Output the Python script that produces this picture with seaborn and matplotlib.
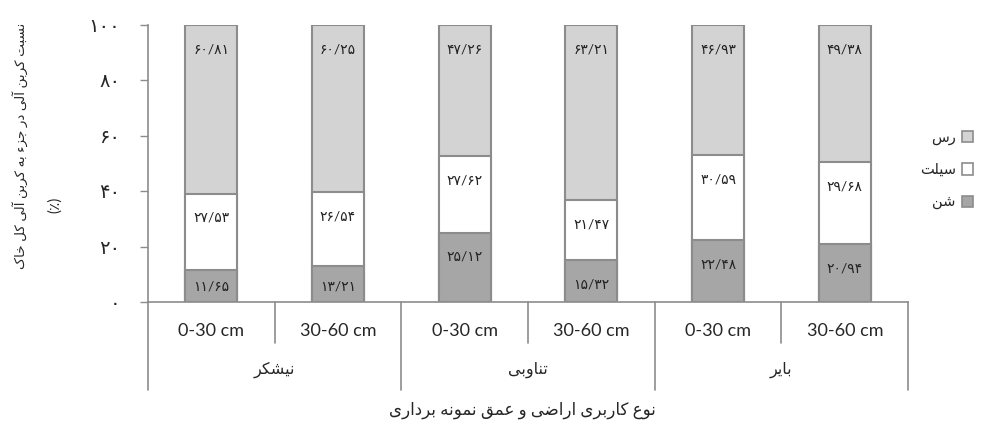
import pandas as pd
import numpy as np
import matplotlib
matplotlib.use("Agg")
import matplotlib.pyplot as plt
import seaborn as sns
from matplotlib.patches import Patch

# data (percent of total organic carbon)
land_use = ["نیشکر", "تناوبی", "بایر"]
depths = ["0-30 cm", "30-60 cm"]
sand = [11.65, 13.21, 25.12, 15.32, 22.48, 20.94]
silt = [27.53, 26.54, 27.62, 21.47, 30.59, 29.68]
clay = [60.81, 60.25, 47.26, 63.21, 46.93, 49.38]
series_names = ["شن", "سیلت", "رس"]
y_ticks = [0, 20, 40, 60, 80, 100]
x_title = "نوع کاربری اراضی و عمق نمونه برداری"
y_title = "نسبت کربن آلی در جزء به کربن آلی کل خاک"
y_unit = "(٪)"

# matplotlib has no arabic shaping, so pick presentation forms by hand
FORMS = {
    "\u0621": ("\ufe80",),
    "\u0622": ("\ufe81", "\ufe82"),
    "\u0627": ("\ufe8d", "\ufe8e"),
    "\u0628": ("\ufe8f", "\ufe90", "\ufe91", "\ufe92"),
    "\u062a": ("\ufe95", "\ufe96", "\ufe97", "\ufe98"),
    "\u062c": ("\ufe9d", "\ufe9e", "\ufe9f", "\ufea0"),
    "\u062e": ("\ufea5", "\ufea6", "\ufea7", "\ufea8"),
    "\u062f": ("\ufea9", "\ufeaa"),
    "\u0631": ("\ufead", "\ufeae"),
    "\u0632": ("\ufeaf", "\ufeb0"),
    "\u0633": ("\ufeb1", "\ufeb2", "\ufeb3", "\ufeb4"),
    "\u0634": ("\ufeb5", "\ufeb6", "\ufeb7", "\ufeb8"),
    "\u0636": ("\ufebd", "\ufebe", "\ufebf", "\ufec0"),
    "\u0639": ("\ufec9", "\ufeca", "\ufecb", "\ufecc"),
    "\u0642": ("\ufed5", "\ufed6", "\ufed7", "\ufed8"),
    "\u0644": ("\ufedd", "\ufede", "\ufedf", "\ufee0"),
    "\u0645": ("\ufee1", "\ufee2", "\ufee3", "\ufee4"),
    "\u0646": ("\ufee5", "\ufee6", "\ufee7", "\ufee8"),
    "\u0647": ("\ufee9", "\ufeea", "\ufeeb", "\ufeec"),
    "\u0648": ("\ufeed", "\ufeee"),
    "\u06a9": ("\ufb8e", "\ufb8f", "\ufb90", "\ufb91"),
    "\u06cc": ("\ufbfc", "\ufbfd", "\ufbfe", "\ufbff"),
}


def fa(text):
    text = text.replace("\u064a", "\u06cc").replace("\u0643", "\u06a9")
    out = []
    for i, ch in enumerate(text):
        f = FORMS.get(ch)
        if f is None:
            out.append(ch)
            continue
        prev = text[i - 1] if i > 0 else ""
        nxt = text[i + 1] if i + 1 < len(text) else ""
        join_prev = len(FORMS.get(prev, ())) == 4 and len(f) > 1
        join_next = len(f) == 4 and len(FORMS.get(nxt, ())) > 1
        if join_prev and join_next:
            out.append(f[3])
        elif join_prev:
            out.append(f[1])
        elif join_next:
            out.append(f[2])
        else:
            out.append(f[0])
    return "".join(reversed(out))


digits = str.maketrans("0123456789.", "۰۱۲۳۴۵۶۷۸۹/")


def fa_num(v, fmt="{:.2f}"):
    return fmt.format(v).translate(digits)


sns.set_style("white")
plt.rcParams["font.family"] = ["Lato", "DejaVu Sans"]

cats = [g + " " + d for g in land_use for d in depths]
df = pd.DataFrame({"cat": cats, "sand": sand, "silt": silt, "clay": clay})
df["low"] = df["sand"]
df["mid"] = df["sand"] + df["silt"]
df["top"] = df["mid"] + df["clay"]

c_clay, c_silt, c_sand = "#d3d3d3", "#ffffff", "#a6a6a6"
edge = "#8c8c8c"

fig = plt.figure(figsize=(9.86, 4.25), dpi=100)
ax = fig.add_axes([0.150, 0.289, 0.771, 0.652])

for col, c in [("top", c_clay), ("mid", c_silt), ("low", c_sand)]:
    sns.barplot(data=df, x="cat", y=col, order=cats, color=c, saturation=1,
                width=0.41, edgecolor=edge, linewidth=1.5, ax=ax)

ax.set_ylim(0, 100)
ax.set_xlim(-0.5, 5.5)
ax.set_xlabel("")
ax.set_ylabel("")
ax.set_yticks(y_ticks)
ax.set_yticklabels([fa_num(t, "{:d}") for t in y_ticks], fontsize=14)
ax.tick_params(axis="y", left=True, length=6, width=1, color=edge, pad=14)
ax.set_xticks([])
for s in ["top", "right"]:
    ax.spines[s].set_visible(False)
for s in ["left", "bottom"]:
    ax.spines[s].set_color(edge)
    ax.spines[s].set_linewidth(1.2)

# value labels near the top of each segment
for i in range(len(cats)):
    segs = [(0, sand[i]), (sand[i], sand[i] + silt[i]),
            (sand[i] + silt[i], sand[i] + silt[i] + clay[i])]
    vals = [sand[i], silt[i], clay[i]]
    for (b, t), v in zip(segs, vals):
        y = max(t - 8.8, b + 5.5)
        ax.text(i, y, fa_num(v), ha="center", va="center", fontsize=10,
                color="#222222")

# two-level category axis
tr = ax.get_xaxis_transform()
for k in range(7):
    x = k - 0.5
    y_end = -0.318 if k % 2 == 0 else -0.148
    ax.plot([x, x], [0, y_end], color=edge, lw=1.2, transform=tr, clip_on=False)
for i, c in enumerate(cats):
    ax.text(i, -0.105, depths[i % 2], ha="center", va="center",
            fontsize=13, transform=tr)
for g, name in enumerate(land_use):
    ax.text(2 * g + 0.5, -0.245, fa(name), ha="center", va="center",
            fontsize=11.5, transform=tr)

fig.text(0.53, 1 - 410 / 425, fa(x_title), ha="center", va="center", fontsize=12)
fig.text(20 / 986, 1 - 146 / 425, fa(y_title), rotation=90, ha="center",
         va="center", fontsize=9.7)
fig.text(55 / 986, 1 - 205 / 425, y_unit, rotation=90, ha="center",
         va="center", fontsize=11)

handles = [Patch(facecolor=c, edgecolor=edge, linewidth=1.2)
           for c in [c_clay, c_silt, c_sand]]
labels = [fa(n) for n in reversed(series_names)]
fig.legend(handles, labels, loc="center right", bbox_to_anchor=(0.987, 0.6),
           frameon=False, markerfirst=False, fontsize=10.5, borderpad=0,
           borderaxespad=0, labelspacing=1.25, handlelength=0.8,
           handleheight=0.8, handletextpad=0.4)

fig.savefig("out.png", dpi=100)
